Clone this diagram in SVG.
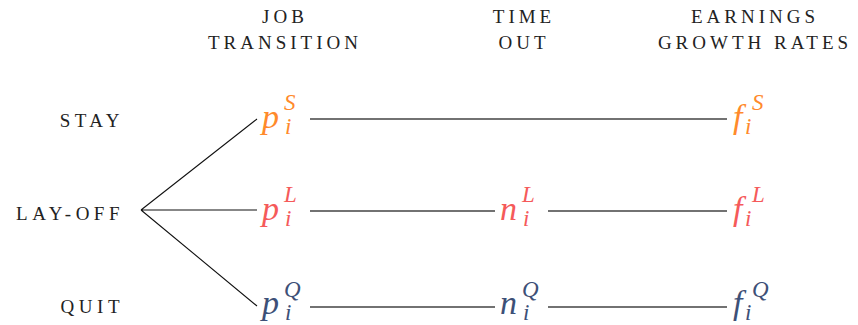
<svg xmlns="http://www.w3.org/2000/svg" width="858" height="325" viewBox="0 0 858 325" font-family="'Liberation Serif', 'DejaVu Serif', 'Noto Serif', Times, serif">
<style>
.hd{font-size:19px;letter-spacing:4px;fill:#222;text-anchor:middle}
.rl{font-size:19px;letter-spacing:4.5px;fill:#222;text-anchor:end}
.m{font-style:italic;font-size:34px}
.sup{font-style:italic;font-size:23px}
.s{fill:#ff8a2b}.l{fill:#f55a5a}.q{fill:#3d5077}
.br{stroke:#111;stroke-width:1.1;fill:none}
.hz{stroke:#444;stroke-width:1.3;fill:none}
</style>
<rect width="858" height="325" fill="#fff"/>
<g id="headers">
<text class="hd" x="285" y="23">JOB</text>
<text class="hd" x="285" y="49">TRANSITION</text>
<text class="hd" x="524" y="23">TIME</text>
<text class="hd" x="524" y="49">OUT</text>
<text class="hd" x="755" y="23">EARNINGS</text>
<text class="hd" x="755" y="49">GROWTH RATES</text>
</g>
<g id="row-labels">
<text class="rl" x="124" y="127">STAY</text>
<text class="rl" x="124" y="220">LAY-OFF</text>
<text class="rl" x="124" y="313">QUIT</text>
</g>
<g id="connectors">
<path class="br" d="M141 210 L257 119 M141 210 L257 210 M141 210 L257 306"/>
<path class="hz" d="M310 119 H727 M310 211 H495 M548 211 H727 M310 307 H495 M548 307 H727"/>
</g>
<g id="pS"><text class="m s" x="262" y="128">p</text><text class="sup s" x="284" y="110">S</text><text class="sup s" x="285" y="134">i</text></g>
<g id="pL"><text class="m l" x="262" y="220">p</text><text class="sup l" x="284" y="202">L</text><text class="sup l" x="285" y="226">i</text></g>
<g id="pQ"><text class="m q" x="262" y="314">p</text><text class="sup q" x="284" y="297">Q</text><text class="sup q" x="285" y="320">i</text></g>
<g id="nL"><text class="m l" x="500" y="220">n</text><text class="sup l" x="522" y="202">L</text><text class="sup l" x="523" y="226">i</text></g>
<g id="nQ"><text class="m q" x="500" y="314">n</text><text class="sup q" x="522" y="297">Q</text><text class="sup q" x="523" y="320">i</text></g>
<g id="fS"><text class="m s" x="733" y="128">f</text><text class="sup s" x="752" y="110">S</text><text class="sup s" x="745" y="134">i</text></g>
<g id="fL"><text class="m l" x="733" y="220">f</text><text class="sup l" x="752" y="202">L</text><text class="sup l" x="745" y="226">i</text></g>
<g id="fQ"><text class="m q" x="733" y="314">f</text><text class="sup q" x="752" y="297">Q</text><text class="sup q" x="745" y="320">i</text></g>
</svg>
